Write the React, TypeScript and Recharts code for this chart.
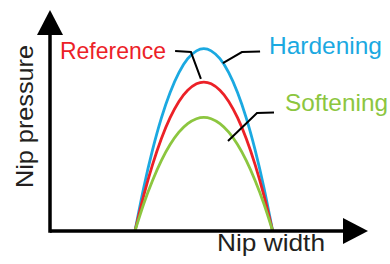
import React from 'react';
import { LineChart, Line, XAxis, YAxis } from 'recharts';

// Nip width positions (arbitrary units) sampled along the curves
const nipWidth = [29, 32, 35, 38, 41, 44, 47, 50, 52.5, 55, 58, 61, 64, 67, 70, 73, 76];
// Nip pressure values (arbitrary units)
const hardening = [0, 22.2, 41.4, 57.6, 70.7, 80.8, 87.9, 91.9, 93, 91.9, 87.9, 80.8, 70.7, 57.6, 41.4, 22.2, 0];
const reference = [0, 18.2, 33.9, 47.1, 57.8, 66.1, 71.8, 75.1, 76, 75.1, 71.8, 66.1, 57.8, 47.1, 33.9, 18.2, 0];
const softening = [0, 13.9, 25.8, 35.9, 44.1, 50.4, 54.8, 57.3, 58, 57.3, 54.8, 50.4, 44.1, 35.9, 25.8, 13.9, 0];

// leader lines (annotation callouts)
const refLeaderX = [42.7, 48.1, 51.5];
const refLeaderY = [91.8, 91.3, 77.6];
const hardLeaderX = [59.0, 65.5, 71.7];
const hardLeaderY = [85.7, 91.3, 91.6];
const softLeaderX = [60.75, 70.65, 76.45];
const softLeaderY = [45.9, 60.2, 60.5];

const seriesNames = ['Reference', 'Hardening', 'Softening'];
const axisTitles = ['Nip width', 'Nip pressure'];

const toRows = (xs: number[], ys: number[]) => xs.map((x, i) => ({ x, y: ys[i] }));

const RED = '#ec2127';
const BLUE = '#1ba9e1';
const GREEN = '#8cc63f';
const FONT = '"Liberation Sans", Arial, sans-serif';

export default function App() {
  return (
    <div style={{ position: 'absolute', left: 0, top: 0, background: '#fff' }}>
      <LineChart width={390} height={264} margin={{ top: 35, right: 47, bottom: 32, left: 49 }}>
        <defs>
          <marker id="arrowHead" viewBox="0 0 25 26" markerWidth={25} markerHeight={26} refX={0} refY={13}
            orient="auto-start-reverse" markerUnits="userSpaceOnUse">
            <path d="M0,0 L25,13 L0,26 Z" fill="#000" />
          </marker>
        </defs>
        <XAxis type="number" dataKey="x" domain={[0, 100]} height={1} tick={false} tickLine={false}
          axisLine={{ stroke: '#000', strokeWidth: 3.5, markerEnd: 'url(#arrowHead)' }} allowDataOverflow />
        <YAxis type="number" dataKey="y" domain={[0, 100]} width={1} tick={false} tickLine={false}
          axisLine={{ stroke: '#000', strokeWidth: 3.5, strokeLinecap: 'square', markerStart: 'url(#arrowHead)' }} allowDataOverflow />
        <Line data={toRows(nipWidth, hardening)} dataKey="y" type="natural" stroke={BLUE} strokeWidth={2.8} dot={false} isAnimationActive={false} />
        <Line data={toRows(nipWidth, reference)} dataKey="y" type="natural" stroke={RED} strokeWidth={2.8} dot={false} isAnimationActive={false} />
        <Line data={toRows(nipWidth, softening)} dataKey="y" type="natural" stroke={GREEN} strokeWidth={2.8} dot={false} isAnimationActive={false} />
        <Line data={toRows(refLeaderX, refLeaderY)} dataKey="y" type="linear" stroke="#000" strokeWidth={2} dot={false} isAnimationActive={false} />
        <Line data={toRows(hardLeaderX, hardLeaderY)} dataKey="y" type="linear" stroke="#000" strokeWidth={2} dot={false} isAnimationActive={false} />
        <Line data={toRows(softLeaderX, softLeaderY)} dataKey="y" type="linear" stroke="#000" strokeWidth={2} dot={false} isAnimationActive={false} />
        <text x={60} y={59} fill={RED} fontFamily={FONT} fontSize={24.5} textLength={106} lengthAdjust="spacingAndGlyphs">{seriesNames[0]}</text>
        <text x={269} y={54} fill={BLUE} fontFamily={FONT} fontSize={24.5} textLength={113} lengthAdjust="spacingAndGlyphs">{seriesNames[1]}</text>
        <text x={285} y={111} fill={GREEN} fontFamily={FONT} fontSize={24.5} textLength={103} lengthAdjust="spacingAndGlyphs">{seriesNames[2]}</text>
        <text x={217} y={251} fill="#231f20" fontFamily={FONT} fontSize={24.5} textLength={108} lengthAdjust="spacingAndGlyphs">{axisTitles[0]}</text>
        <text x={33} y={116.5} fill="#231f20" fontFamily={FONT} fontSize={24.5} textAnchor="middle"
          transform="rotate(-90, 33, 116.5)" textLength={143} lengthAdjust="spacingAndGlyphs">{axisTitles[1]}</text>
      </LineChart>
    </div>
  );
}
